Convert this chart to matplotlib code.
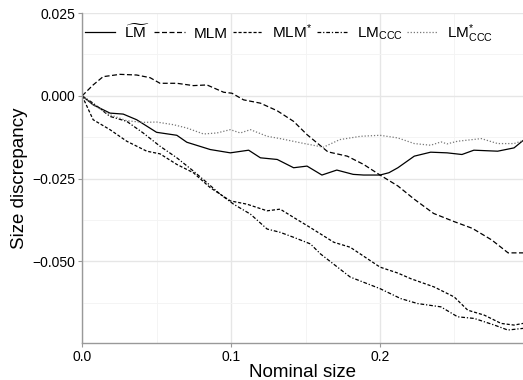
import matplotlib
matplotlib.use('Agg')
import matplotlib.pyplot as plt
from matplotlib.ticker import MultipleLocator

plt.rcParams['font.family'] = ['Liberation Sans', 'DejaVu Sans']
plt.rcParams['mathtext.fontset'] = 'custom'
plt.rcParams['mathtext.rm'] = 'Liberation Sans'
plt.rcParams['mathtext.it'] = 'Liberation Sans'

# LM tilde (solid)
x_lm = [0, 0.0074, 0.0187, 0.0276, 0.0366, 0.050, 0.0636, 0.0703, 0.086, 0.0995, 0.1118, 0.1197,
        0.131, 0.142, 0.151, 0.161, 0.171, 0.182, 0.189, 0.200, 0.206, 0.212, 0.223, 0.234,
        0.245, 0.255, 0.263, 0.279, 0.290, 0.296]
y_lm = [0, -0.0027, -0.0052, -0.0055, -0.0072, -0.011, -0.0119, -0.014, -0.0162, -0.0172, -0.0164, -0.0187,
        -0.0192, -0.0217, -0.0212, -0.0239, -0.0224, -0.0237, -0.0239, -0.0239, -0.0232, -0.0217, -0.0182, -0.017,
        -0.0172, -0.0177, -0.0164, -0.0167, -0.0157, -0.0135]

# MLM (long dash)
x_mlm = [0, 0.0074, 0.0141, 0.0254, 0.0366, 0.0456, 0.0523, 0.0636, 0.0747, 0.0838, 0.095, 0.1006,
         0.1084, 0.1197, 0.131, 0.142, 0.151, 0.165, 0.178, 0.189, 0.200, 0.212, 0.223, 0.236,
         0.250, 0.262, 0.275, 0.286, 0.296]
y_mlm = [0, 0.0033, 0.0058, 0.0065, 0.0063, 0.0055, 0.0038, 0.0038, 0.0031, 0.0033, 0.0011, 0.0008,
         -0.0012, -0.0022, -0.0045, -0.0077, -0.0117, -0.0169, -0.0182, -0.0207, -0.0239, -0.0272, -0.0312, -0.0355,
         -0.038, -0.040, -0.0435, -0.0474, -0.0474]

# MLM* (short dash)
x_mlms = [0, 0.0074, 0.0187, 0.030, 0.0434, 0.0523, 0.0636, 0.0747, 0.086, 0.0995, 0.1107, 0.1242,
          0.133, 0.142, 0.153, 0.169, 0.180, 0.200, 0.212, 0.2207, 0.2364, 0.2498, 0.2589, 0.270,
          0.2813, 0.290, 0.296]
y_mlms = [0, -0.0072, -0.0102, -0.0137, -0.0167, -0.0175, -0.0207, -0.0232, -0.0277, -0.0317, -0.0327, -0.0347,
          -0.0342, -0.0367, -0.0397, -0.0442, -0.0457, -0.0517, -0.0535, -0.0552, -0.0577, -0.0607, -0.0647, -0.0662,
          -0.0687, -0.0692, -0.0687]

# LM_CCC (dash-dot)
x_ccc = [0, 0.0074, 0.0187, 0.030, 0.041, 0.0523, 0.0636, 0.0747, 0.0838, 0.0927, 0.1017, 0.113,
         0.1242, 0.133, 0.142, 0.1533, 0.160, 0.180, 0.200, 0.2139, 0.2252, 0.2409, 0.2521, 0.2633,
         0.2768, 0.2858, 0.296]
y_ccc = [0, -0.0022, -0.0062, -0.0077, -0.0112, -0.0152, -0.0187, -0.0227, -0.0262, -0.0297, -0.0327, -0.0357,
         -0.0402, -0.0412, -0.0427, -0.0447, -0.0477, -0.0547, -0.0582, -0.0612, -0.0627, -0.0637, -0.0667, -0.0672,
         -0.0692, -0.0707, -0.0702]

# LM*_CCC (dotted, grey)
x_cccs = [0, 0.0074, 0.0187, 0.030, 0.041, 0.050, 0.0613, 0.0703, 0.0815, 0.0905, 0.0995, 0.1062,
          0.113, 0.1242, 0.133, 0.147, 0.162, 0.173, 0.187, 0.200, 0.212, 0.223, 0.234, 0.241,
          0.245, 0.252, 0.268, 0.279, 0.290, 0.296]
y_cccs = [0, -0.0027, -0.0057, -0.0075, -0.008, -0.0079, -0.0087, -0.0097, -0.0115, -0.0112, -0.0102, -0.0112,
          -0.0102, -0.0122, -0.0129, -0.0142, -0.0155, -0.0132, -0.0122, -0.0119, -0.0127, -0.0144, -0.0149, -0.0139,
          -0.0145, -0.0137, -0.0129, -0.0144, -0.0144, -0.0135]

labels = [r'$\widetilde{\mathrm{LM}}$', 'MLM', r'MLM$^{*}$', r'LM$_{\mathrm{CCC}}$', r'LM$^{*}_{\mathrm{CCC}}$']

fig = plt.figure(figsize=(5.23, 3.8), dpi=100)
ax = fig.add_axes([0.157, 0.0966, 0.843, 0.869])

lw = 0.9
ax.plot(x_lm, y_lm, color='black', lw=lw, ls='-', label=labels[0])
ax.plot(x_mlm, y_mlm, color='black', lw=lw, ls=(0, (4, 2)), label=labels[1])
ax.plot(x_mlms, y_mlms, color='black', lw=lw, ls=(0, (2.5, 1.5)), label=labels[2])
ax.plot(x_ccc, y_ccc, color='black', lw=lw, ls=(0, (3, 1.5, 1, 1.5)), label=labels[3])
ax.plot(x_cccs, y_cccs, color='#777777', lw=lw, ls=(0, (1, 1.5)), label=labels[4])

ax.set_xlim(0, 0.296)
ax.set_ylim(-0.0747, 0.025)
ax.xaxis.set_minor_locator(MultipleLocator(0.05))
ax.yaxis.set_minor_locator(MultipleLocator(0.0125))
ax.set_xticks([0, 0.1, 0.2])
ax.set_xticklabels(['0.0', '0.1', '0.2'])
ax.set_yticks([0.025, 0.0, -0.025, -0.05])
ax.set_yticklabels(['0.025', '0.000', '\u22120.025', '\u22120.050'])

ax.grid(True, which='major', color='#e6e6e6', lw=1.0)
ax.grid(True, which='minor', color='#f3f3f3', lw=0.6)
ax.set_axisbelow(True)
for s in ['top', 'right']:
    ax.spines[s].set_visible(False)
for s in ['left', 'bottom']:
    ax.spines[s].set_color('#999999')
    ax.spines[s].set_linewidth(1.0)
ax.tick_params(which='major', length=3, color='#999999', labelsize=10, labelcolor='black', pad=2)
ax.tick_params(which='minor', length=0)

ax.set_xlabel('Nominal size', fontsize=13.5, labelpad=0)
ax.set_ylabel('Size discrepancy', fontsize=13.5, labelpad=3)

ax.legend(loc='upper left', bbox_to_anchor=(-0.015, 1.0), ncol=5, frameon=False, fontsize=11,
          handlelength=2.0, handletextpad=0.6, columnspacing=0.3, borderaxespad=0.0, borderpad=0.6)

fig.savefig('out.png', dpi=100)
